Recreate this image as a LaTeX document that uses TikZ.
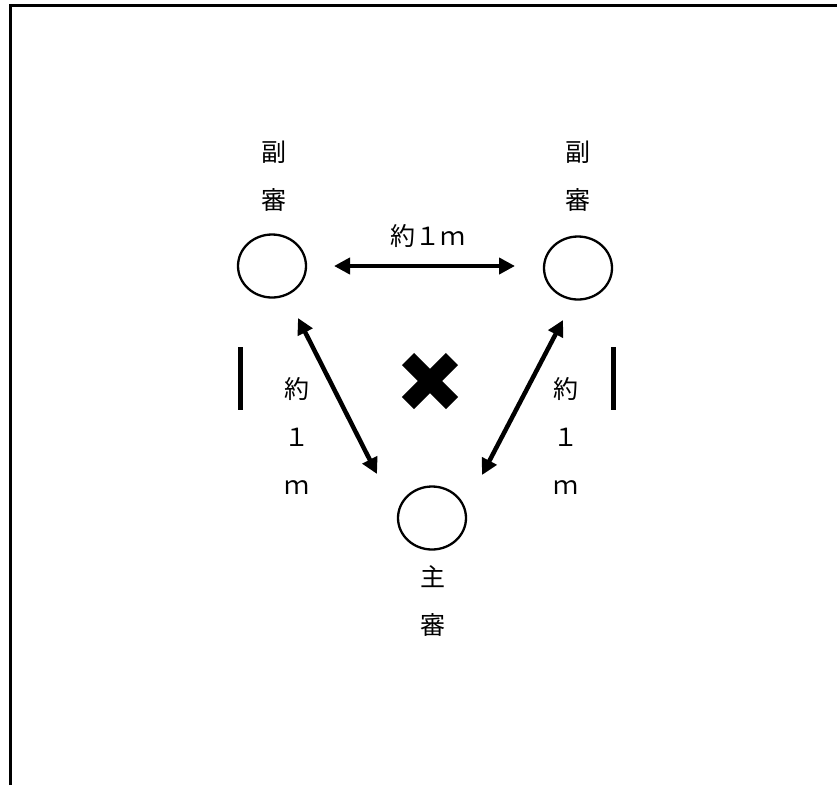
\documentclass[tikz,border=0pt]{standalone}
\usepackage{fontspec}
\setmainfont{Noto Sans CJK JP}
\usetikzlibrary{positioning,arrows.meta,shapes.geometric}

\begin{document}
\begin{tikzpicture}[x=1pt,y=-1pt,font=\fontsize{25}{48}\selectfont,
  judge/.style={draw,ellipse,line width=2.3pt,minimum width=68pt,minimum height=63pt,inner sep=0pt},
  rolelabel/.style={align=center,inner sep=0pt},
  dist/.style={{Triangle[length=16pt,width=16pt]}-{Triangle[length=16pt,width=16pt]},line width=4.5pt},
  bar/.style={line width=5pt}]
\useasboundingbox (0,0) rectangle (837,785);
% frame (open on the right and at the bottom)
\draw[line width=3pt] (10,785) -- (10,5.5) -- (837,5.5);
% referees
\node[judge] (subL) at (272,266) {};
\node[judge] (subR) at (578,268) {};
\node[judge] (chief) at (432,518) {};
\node[rolelabel] (subLname) at (274,176) {副\\審};
\node[rolelabel] (subRname) at (578,176) {副\\審};
\node[rolelabel] (chiefname) at (433,601) {主\\審};
% distances
\coordinate (hL) at (334,266); \coordinate (hR) at (515,266);
\coordinate (dL1) at (298,318); \coordinate (dL2) at (377,474);
\coordinate (dR1) at (563,320); \coordinate (dR2) at (482,475);
\draw[dist] (hL) -- (hR);
\draw[dist] (dL1) -- (dL2);
\draw[dist] (dR1) -- (dR2);
\node[rolelabel] (topdist) at (428,236) {約１ｍ};
\node[rolelabel] (leftdist) at (297,436) {約\\１\\ｍ};
\node[rolelabel] (rightdist) at (566,436) {約\\１\\ｍ};
\draw[bar] (240.5,347) -- (240.5,410);
\draw[bar] (613.5,347) -- (613.5,410);
% cross in the middle
\draw[line width=17pt] (408,359) -- (452,403) (452,359) -- (408,403);
\end{tikzpicture}
\end{document}
